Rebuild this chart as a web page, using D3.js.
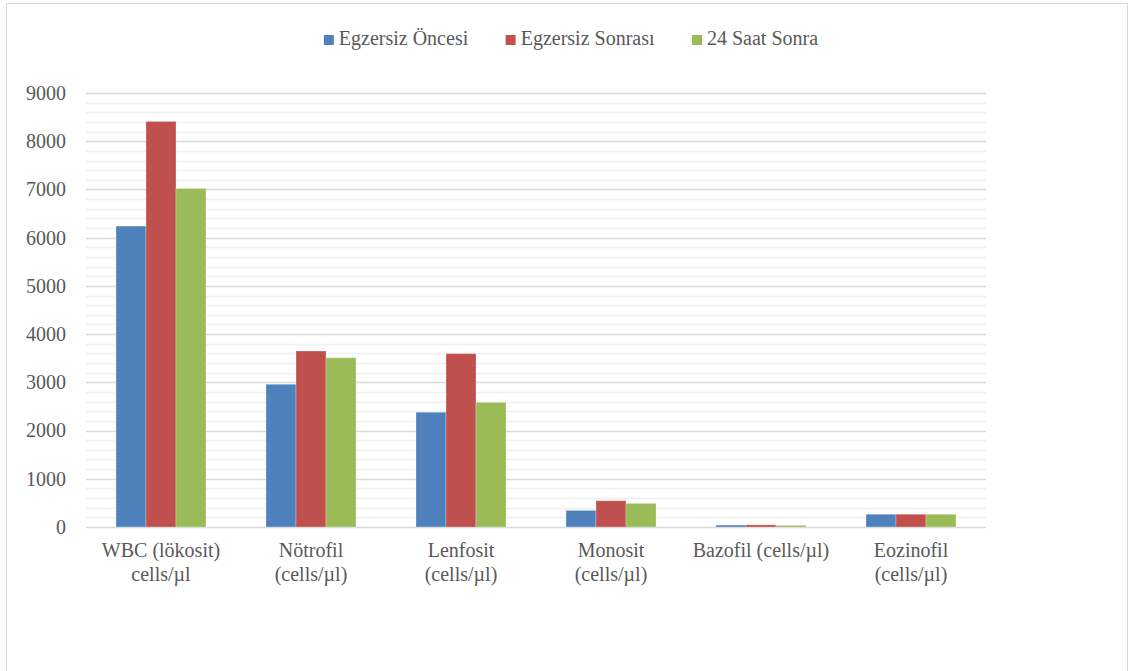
<!DOCTYPE html>
<html>
<head>
<meta charset="utf-8">
<script src="https://cdn.jsdelivr.net/npm/d3@7"></script>
<style>
  body { margin: 0; background: #fff; }
  svg, svg text { font-family: "Liberation Serif", "Times New Roman", Times, "DejaVu Serif", serif; }
</style>
</head>
<body>
<script>
// Chart data
const categories = ['WBC', 'Nötrofil', 'Lenfosit', 'Monosit', 'Bazofil', 'Eozinofil'];
const categoryLabels = [
    ['WBC (lökosit)', 'cells/µl'],
    ['Nötrofil', '(cells/µl)'],
    ['Lenfosit', '(cells/µl)'],
    ['Monosit', '(cells/µl)'],
    ['Bazofil (cells/µl)'],
    ['Eozinofil', '(cells/µl)']
];
const seriesNames = ['Egzersiz Öncesi', 'Egzersiz Sonrası', '24 Saat Sonra'];
const oncesi = [6240, 2960, 2380, 345, 40, 265];
const sonrasi = [8410, 3650, 3595, 545, 45, 265];
const saat24 = [7020, 3510, 2585, 490, 35, 265];
const yTicks = [0, 1000, 2000, 3000, 4000, 5000, 6000, 7000, 8000, 9000];
const colors = ['#4f81bd', '#c0504d', '#9bbb59'];

const seriesValues = [oncesi, sonrasi, saat24];
const fontFamily = '"Liberation Serif", "Times New Roman", Times, "DejaVu Serif", serif';

const width = 1133, height = 671;
const svg = d3.select('body').append('svg')
    .attr('width', width)
    .attr('height', height);

// Outer frame
svg.append('rect')
    .attr('x', 6.5).attr('y', 3.5)
    .attr('width', 1121).attr('height', 700)
    .attr('fill', '#fff')
    .attr('stroke', '#d9d9d9');

// Scales
const x = d3.scaleBand()
    .domain(categories)
    .range([86, 986])
    .paddingInner(0.4)
    .paddingOuter(0.2);

const xInner = d3.scaleBand()
    .domain(seriesNames)
    .range([0, x.bandwidth()]);

const y = d3.scaleLinear()
    .domain([0, 9000])
    .range([527, 93]);

// Minor gridlines
svg.append('g')
    .selectAll('line')
    .data(d3.range(200, 9000, 200).filter(v => v % 1000 !== 0))
    .join('line')
    .attr('x1', 86).attr('x2', 986)
    .attr('y1', d => Math.round(y(d)) + 0.5)
    .attr('y2', d => Math.round(y(d)) + 0.5)
    .attr('stroke', '#f0f0f0')
    .attr('stroke-width', 1.3);

// Major gridlines
svg.append('g')
    .selectAll('line')
    .data(yTicks)
    .join('line')
    .attr('x1', 86).attr('x2', 986)
    .attr('y1', d => Math.round(y(d)) + 0.5)
    .attr('y2', d => Math.round(y(d)) + 0.5)
    .attr('stroke', '#d9d9d9')
    .attr('stroke-width', 1.3);

// Y axis labels
svg.append('g')
    .call(d3.axisLeft(y).tickValues(yTicks).tickSize(0).tickPadding(0).tickFormat(d3.format('d')))
    .attr('transform', 'translate(66,0)')
    .attr('font-family', fontFamily)
    .attr('font-size', 20)
    .call(g => g.select('.domain').remove())
    .selectAll('text')
    .attr('fill', '#595959');

// Bars
const groups = svg.append('g')
    .selectAll('g')
    .data(categories)
    .join('g')
    .attr('transform', d => `translate(${x(d)},0)`);

groups.selectAll('rect')
    .data((d, i) => seriesNames.map((s, j) => ({ s, j, v: seriesValues[j][i] })))
    .join('rect')
    .attr('x', d => xInner(d.s))
    .attr('width', xInner.bandwidth())
    .attr('y', d => y(d.v))
    .attr('height', d => y(0) - y(d.v))
    .attr('fill', d => colors[d.j])
    .attr('stroke', 'rgba(255,255,255,0.35)')
    .attr('stroke-width', 0.8);

// X axis labels
const xLabels = svg.append('g')
    .attr('font-family', fontFamily)
    .selectAll('text')
    .data(categories)
    .join('text')
    .attr('x', d => x(d) + x.bandwidth() / 2)
    .attr('y', 557)
    .attr('text-anchor', 'middle')
    .attr('font-size', 20)
    .attr('fill', '#595959');

xLabels.selectAll('tspan')
    .data((d, i) => categoryLabels[i])
    .join('tspan')
    .attr('x', function () { return this.parentNode.getAttribute('x'); })
    .attr('dy', (d, i) => i === 0 ? 0 : 24)
    .text(d => d);

// Legend
const legend = svg.append('g').attr('font-family', fontFamily);
const items = legend.selectAll('g')
    .data(seriesNames)
    .join('g');

items.append('rect')
    .attr('width', 10).attr('height', 10)
    .attr('y', -10)
    .attr('fill', (d, i) => colors[i]);

items.append('text')
    .attr('x', 15)
    .attr('y', 0)
    .attr('font-size', 20)
    .attr('fill', '#595959')
    .text(d => d);

let offset = 0;
const itemGap = 37;
const widths = [];
items.each(function () {
    widths.push(this.getBBox().width);
});
const totalW = d3.sum(widths) + itemGap * (widths.length - 1);
items.attr('transform', (d, i) => {
    const t = `translate(${offset},0)`;
    offset += widths[i] + itemGap;
    return t;
});
legend.attr('transform', `translate(${571 - totalW / 2},45)`);
</script>
</body>
</html>
